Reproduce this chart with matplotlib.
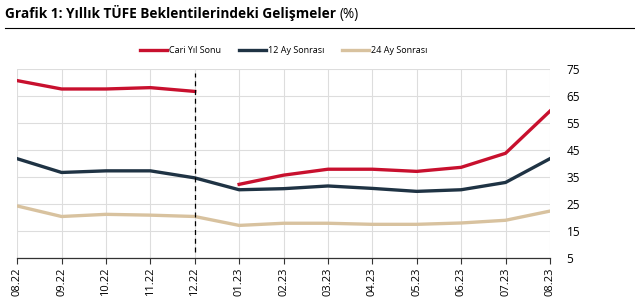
import matplotlib
matplotlib.use('Agg')
import matplotlib.pyplot as plt
import numpy as np

# Data
months = ['08.22', '09.22', '10.22', '11.22', '12.22', '01.23', '02.23',
          '03.23', '04.23', '05.23', '06.23', '07.23', '08.23']
cari_yil = [70.7, 67.6, 67.6, 68.1, 66.7, 32.3, 35.7, 37.9, 37.9, 37.1, 38.6, 43.8, 59.4]
ay12 = [41.8, 36.7, 37.3, 37.3, 34.7, 30.3, 30.7, 31.7, 30.8, 29.7, 30.3, 33.0, 41.8]
ay24 = [24.3, 20.4, 21.2, 20.9, 20.4, 17.1, 17.9, 17.9, 17.5, 17.5, 18.0, 19.0, 22.4]
y_ticks = [5, 15, 25, 35, 45, 55, 65, 75]

plt.rcParams['font.family'] = ['Open Sans', 'DejaVu Sans']

fig = plt.figure(figsize=(6.35, 3.08), dpi=100)
ax = fig.add_axes([0.027, 0.162, 0.839, 0.614])

x = np.arange(len(months))
red = '#C8102E'
navy = '#1F3344'
tan = '#D8C29F'

# Cari yil series is broken at year change
ax.plot(x[:5], cari_yil[:5], color=red, lw=2.4, label='Cari Yıl Sonu', zorder=4)
ax.plot(x[5:], cari_yil[5:], color=red, lw=2.4, zorder=4)
ax.plot(x, ay12, color=navy, lw=2.4, label='12 Ay Sonrası', zorder=3)
ax.plot(x, ay24, color=tan, lw=2.4, label='24 Ay Sonrası', zorder=3)

ax.axvline(4, ymin=0.03, ymax=0.98, color='black', lw=0.9, ls=(0, (4, 3)), zorder=5)

ax.set_xlim(0, len(months) - 1)
ax.set_ylim(5, 75)
ax.set_xticks(x)
ax.set_xticklabels(months, rotation=90, fontsize=8)
ax.set_yticks(y_ticks)
ax.yaxis.tick_right()
ax.tick_params(axis='y', length=0, labelsize=8.5, pad=12)
ax.tick_params(axis='x', length=4, width=0.8, color='#333333', pad=3)
ax.grid(True, color='#DDDDDD', linewidth=0.8)
ax.set_axisbelow(True)
for s in ['top', 'left', 'right']:
    ax.spines[s].set_visible(False)
ax.spines['bottom'].set_color('#333333')
ax.spines['bottom'].set_linewidth(0.9)

ax.legend(loc='lower center', bbox_to_anchor=(0.5, 1.03), ncol=3, frameon=False,
          fontsize=6.5, handlelength=3.0, handletextpad=0.2, columnspacing=2.0)

# Title: bold part then normal "(%)"
t = fig.text(0.008, 0.94, 'Grafik 1: Yıllık TÜFE Beklentilerindeki Gelişmeler',
             fontsize=9.8, fontweight='bold', va='baseline', ha='left')
fig.canvas.draw()
bb = t.get_window_extent(renderer=fig.canvas.get_renderer())
x_end = bb.x1 / fig.bbox.width
fig.text(x_end + 0.005, 0.94, '(%)', fontsize=9.8, va='baseline', ha='left')
fig.add_artist(plt.Line2D([0.008, 1.0], [0.91, 0.91], color='black', lw=0.8))

plt.savefig('out.png', dpi=100)
